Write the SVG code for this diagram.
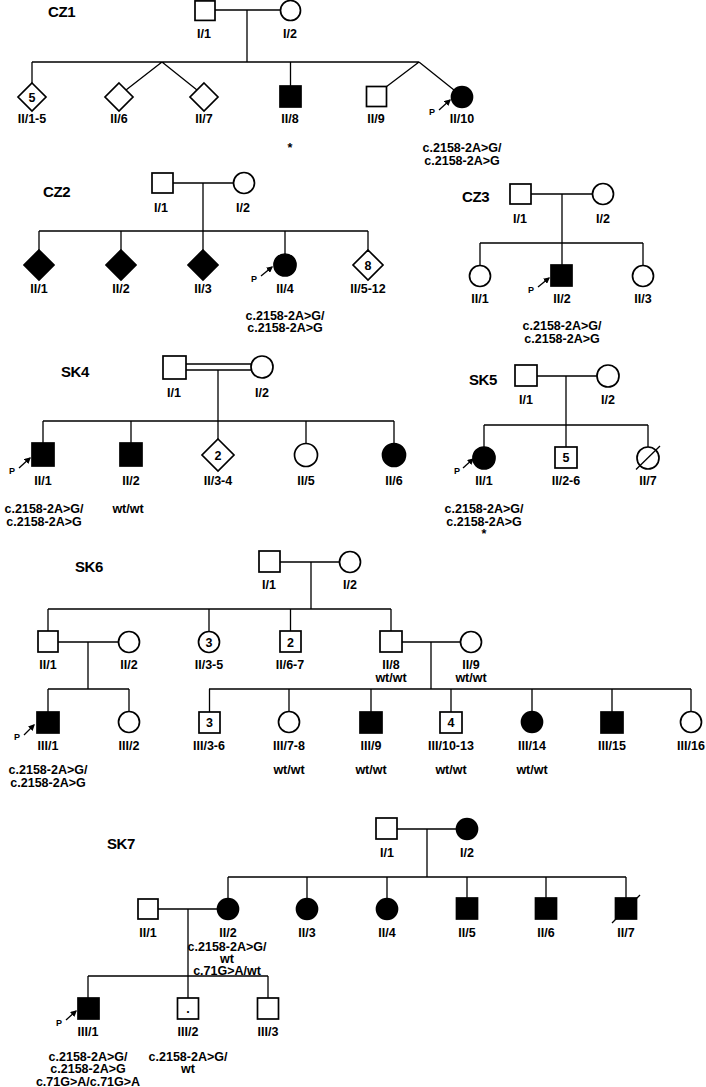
<svg xmlns="http://www.w3.org/2000/svg" width="706" height="1087" viewBox="0 0 706 1087">
<style>
.n{fill:#fff;stroke:#000;stroke-width:1.7}
.f{fill:#000;stroke:#000;stroke-width:1.7}
.c{fill:none;stroke:#000;stroke-width:1.3}
.pa{fill:none;stroke:#000;stroke-width:1.3;marker-end:url(#ah)}
text{font-family:"Liberation Sans",Arial,sans-serif;font-weight:bold;fill:#000}
.t{font-size:12.5px;text-anchor:middle}
.h{font-size:15px;letter-spacing:-0.4px}
.p{font-size:9px;text-anchor:middle}
</style>
<defs>
<marker id="ah" viewBox="0 0 10 10" refX="8" refY="5" markerWidth="5" markerHeight="5" orient="auto"><path d="M0,0 L10,5 L0,10 z" fill="#000"/></marker>
</defs>
<rect width="706" height="1087" fill="#fff"/>

<!-- ================= connectors ================= -->
<g id="connectors">
<!-- CZ1 -->
<path class="c" d="M215,10H280M247,10V62M32,62H419M32,62V83M162,62L126,90M162,62L197,90M290.5,62V86M419,62L386,87M419,62L454,90"/>
<!-- CZ2 -->
<path class="c" d="M173,183H233M203,183V231M39,231H368M39,231V250M121,231V250M203,231V250M285,231V254M368,231V250"/>
<!-- CZ3 -->
<path class="c" d="M531,194H592M562,194V243M480,243H643M480,243V265.5M562,243V265M643,243V265.5"/>
<!-- SK4 -->
<path class="c" d="M186,364H251M186,370H251M218,370V421M43,421H394M43,421V443M131,421V443M218,421V439M306,421V443.5M394,421V443.5"/>
<!-- SK5 -->
<path class="c" d="M537,376H597M566,376V425M484,425H648M484,425V447M566,425V447M648,425V447"/>
<!-- SK6 -->
<path class="c" d="M280,562H340M311,562V609M48,609H391M48,609V631M209,609V631.5M290.5,609V631M391,609V631M58,642H118.5M88,642V689M48,689H129M48,689V712M129,689V711.5M402,642H460.5M431,642V689M209,689H691M209.5,689V712M289,689V711.5M371,689V712M451,689V712M532,689V711.5M612,689V712M691,689V711.5"/>
<!-- SK7 -->
<path class="c" d="M397,829H456.5M427,829V877M228,877H626M228,877V898.5M307,877V898.5M387,877V898.5M467,877V898M546,877V898M626,877V898M158,909H217.5M188,909V998M88,976H268M88,976V998M268,976V998"/>
<!-- proband arrows -->
<path class="pa" d="M439,110L450,100"/>
<path class="pa" d="M261,276L272,267"/>
<path class="pa" d="M538,287L549,278"/>
<path class="pa" d="M19,468L30,458"/>
<path class="pa" d="M463,468L473,459"/>
<path class="pa" d="M24,735L34,725"/>
<path class="pa" d="M66,1020L76,1011"/>
</g>

<!-- ================= CZ1 ================= -->
<g id="CZ1">
<text class="h" x="48" y="16.5">CZ1</text>
<g id="CZ1-I1"><rect class="n" x="195" y="0.9" width="20" height="19.5"/><text class="t" x="204" y="37.5">I/1</text></g>
<g id="CZ1-I2"><circle class="n" cx="290.5" cy="10.5" r="10"/><text class="t" x="290" y="37.5">I/2</text></g>
<g id="CZ1-II1-5"><polygon class="n" points="32,83 46,97 32,111 18,97"/><text class="t" x="32" y="101.5">5</text><text class="t" x="32" y="122.5">II/1-5</text></g>
<g id="CZ1-II6"><polygon class="n" points="119,83 133,97 119,111 105,97"/><text class="t" x="119" y="122.5">II/6</text></g>
<g id="CZ1-II7"><polygon class="n" points="204,83 218,97 204,111 190,97"/><text class="t" x="204" y="122.5">II/7</text></g>
<g id="CZ1-II8"><rect class="f" x="280" y="86" width="21" height="21"/><text class="t" x="290" y="122.5">II/8</text><text class="t" x="290" y="152">*</text></g>
<g id="CZ1-II9"><rect class="n" x="366.5" y="86.5" width="20" height="20"/><text class="t" x="376" y="122.5">II/9</text></g>
<g id="CZ1-II10"><circle class="f" cx="462" cy="97" r="10.5"/><text class="p" x="432" y="115">P</text><text class="t" x="462" y="122.5">II/10</text><text class="t" x="462" y="151.5">c.2158-2A&gt;G/</text><text class="t" x="462" y="164.5">c.2158-2A&gt;G</text></g>
</g>

<!-- ================= CZ2 ================= -->
<g id="CZ2">
<text class="h" x="43" y="196.5">CZ2</text>
<g id="CZ2-I1"><rect class="n" x="152" y="173" width="21" height="20"/><text class="t" x="161" y="211.5">I/1</text></g>
<g id="CZ2-I2"><circle class="n" cx="244" cy="183" r="10.5"/><text class="t" x="243" y="211.5">I/2</text></g>
<g id="CZ2-II1"><polygon class="f" points="39,250 54,265 39,280 24,265"/><text class="t" x="39" y="292.5">II/1</text></g>
<g id="CZ2-II2"><polygon class="f" points="121,250 136,265 121,280 106,265"/><text class="t" x="121" y="292.5">II/2</text></g>
<g id="CZ2-II3"><polygon class="f" points="203,250 218,265 203,280 188,265"/><text class="t" x="203" y="292.5">II/3</text></g>
<g id="CZ2-II4"><circle class="f" cx="285" cy="265" r="11"/><text class="p" x="254" y="282">P</text><text class="t" x="285" y="292.5">II/4</text><text class="t" x="285" y="319.5">c.2158-2A&gt;G/</text><text class="t" x="285" y="331.5">c.2158-2A&gt;G</text></g>
<g id="CZ2-II5-12"><polygon class="n" points="368,250 383,265 368,280 353,265"/><text class="t" x="368" y="269.5">8</text><text class="t" x="368" y="292.5">II/5-12</text></g>
</g>

<!-- ================= CZ3 ================= -->
<g id="CZ3">
<text class="h" x="462" y="201.5">CZ3</text>
<g id="CZ3-I1"><rect class="n" x="510" y="184" width="21" height="20"/><text class="t" x="520" y="222.5">I/1</text></g>
<g id="CZ3-I2"><circle class="n" cx="603" cy="194" r="10.5"/><text class="t" x="603" y="222.5">I/2</text></g>
<g id="CZ3-II1"><circle class="n" cx="480" cy="276" r="10.5"/><text class="t" x="480" y="302.5">II/1</text></g>
<g id="CZ3-II2"><rect class="f" x="551" y="265" width="21" height="21"/><text class="p" x="531" y="293">P</text><text class="t" x="562" y="302.5">II/2</text><text class="t" x="562" y="329.5">c.2158-2A&gt;G/</text><text class="t" x="562" y="342.5">c.2158-2A&gt;G</text></g>
<g id="CZ3-II3"><circle class="n" cx="643" cy="276" r="10.5"/><text class="t" x="643" y="302.5">II/3</text></g>
</g>

<!-- ================= SK4 ================= -->
<g id="SK4">
<text class="h" x="61" y="376.5">SK4</text>
<g id="SK4-I1"><rect class="n" x="163" y="356" width="23" height="23"/><text class="t" x="174" y="396.5">I/1</text></g>
<g id="SK4-I2"><circle class="n" cx="262" cy="367" r="11"/><text class="t" x="262" y="396.5">I/2</text></g>
<g id="SK4-II1"><rect class="f" x="32" y="443" width="22" height="23"/><text class="p" x="12" y="474">P</text><text class="t" x="43" y="484.5">II/1</text><text class="t" x="44" y="512.5">c.2158-2A&gt;G/</text><text class="t" x="44" y="525.5">c.2158-2A&gt;G</text></g>
<g id="SK4-II2"><rect class="f" x="120" y="443" width="22" height="23"/><text class="t" x="131" y="484.5">II/2</text><text class="t" x="128" y="512.5">wt/wt</text></g>
<g id="SK4-II3-4"><polygon class="n" points="218,439 234,455 218,471 202,455"/><text class="t" x="218" y="459.5">2</text><text class="t" x="218" y="484.5">II/3-4</text></g>
<g id="SK4-II5"><circle class="n" cx="306" cy="455" r="11.5"/><text class="t" x="306" y="484.5">II/5</text></g>
<g id="SK4-II6"><circle class="f" cx="394" cy="455" r="11.5"/><text class="t" x="394" y="484.5">II/6</text></g>
</g>

<!-- ================= SK5 ================= -->
<g id="SK5">
<text class="h" x="469" y="384.5">SK5</text>
<g id="SK5-I1"><rect class="n" x="515" y="365" width="22" height="21"/><text class="t" x="526" y="403.5">I/1</text></g>
<g id="SK5-I2"><circle class="n" cx="608" cy="376" r="11"/><text class="t" x="608" y="403.5">I/2</text></g>
<g id="SK5-II1"><circle class="f" cx="484" cy="458" r="11"/><text class="p" x="457" y="474">P</text><text class="t" x="484" y="484.5">II/1</text><text class="t" x="484" y="512.5">c.2158-2A&gt;G/</text><text class="t" x="484" y="525.5">c.2158-2A&gt;G</text><text class="t" x="484" y="538">*</text></g>
<g id="SK5-II2-6"><rect class="n" x="555" y="447" width="22" height="21"/><text class="t" x="566" y="462">5</text><text class="t" x="566" y="484.5">II/2-6</text></g>
<g id="SK5-II7"><circle class="n" cx="648" cy="458" r="11"/><line class="c" x1="636" y1="469.5" x2="660" y2="446"/><text class="t" x="648" y="484.5">II/7</text></g>
</g>

<!-- ================= SK6 ================= -->
<g id="SK6">
<text class="h" x="75" y="571.5">SK6</text>
<g id="SK6-I1"><rect class="n" x="259" y="551" width="21" height="21"/><text class="t" x="269" y="588.5">I/1</text></g>
<g id="SK6-I2"><circle class="n" cx="350" cy="562" r="10.5"/><text class="t" x="350" y="588.5">I/2</text></g>
<g id="SK6-II1"><rect class="n" x="38" y="631" width="20" height="21"/><text class="t" x="48" y="668.5">II/1</text></g>
<g id="SK6-II2"><circle class="n" cx="129" cy="642" r="10.5"/><text class="t" x="129" y="668.5">II/2</text></g>
<g id="SK6-II3-5"><circle class="n" cx="209" cy="642" r="10.5"/><text class="t" x="209" y="646.5">3</text><text class="t" x="209" y="668.5">II/3-5</text></g>
<g id="SK6-II6-7"><rect class="n" x="280" y="631" width="21" height="21"/><text class="t" x="290.5" y="646.5">2</text><text class="t" x="290" y="668.5">II/6-7</text></g>
<g id="SK6-II8"><rect class="n" x="380" y="631" width="22" height="21"/><text class="t" x="391" y="668.5">II/8</text><text class="t" x="391" y="681.5">wt/wt</text></g>
<g id="SK6-II9"><circle class="n" cx="471" cy="642" r="10.5"/><text class="t" x="471" y="668.5">II/9</text><text class="t" x="471" y="681.5">wt/wt</text></g>
<g id="SK6-III1"><rect class="f" x="37" y="712" width="22" height="21"/><text class="p" x="17" y="740">P</text><text class="t" x="48" y="749.5">III/1</text><text class="t" x="48" y="773.5">c.2158-2A&gt;G/</text><text class="t" x="48" y="786.5">c.2158-2A&gt;G</text></g>
<g id="SK6-III2"><circle class="n" cx="129" cy="722" r="10.5"/><text class="t" x="129" y="749.5">III/2</text></g>
<g id="SK6-III3-6"><rect class="n" x="199" y="712" width="21" height="21"/><text class="t" x="209.5" y="727">3</text><text class="t" x="209" y="749.5">III/3-6</text></g>
<g id="SK6-III7-8"><circle class="n" cx="289" cy="722" r="10.5"/><text class="t" x="289" y="749.5">III/7-8</text><text class="t" x="289" y="774">wt/wt</text></g>
<g id="SK6-III9"><rect class="f" x="360" y="712" width="22" height="21"/><text class="t" x="371" y="749.5">III/9</text><text class="t" x="371" y="774">wt/wt</text></g>
<g id="SK6-III10-13"><rect class="n" x="440" y="712" width="22" height="21"/><text class="t" x="451" y="727">4</text><text class="t" x="451" y="749.5">III/10-13</text><text class="t" x="451" y="774">wt/wt</text></g>
<g id="SK6-III14"><circle class="f" cx="532" cy="722" r="10.5"/><text class="t" x="532" y="749.5">III/14</text><text class="t" x="532" y="774">wt/wt</text></g>
<g id="SK6-III15"><rect class="f" x="601" y="712" width="22" height="21"/><text class="t" x="612" y="749.5">III/15</text></g>
<g id="SK6-III16"><circle class="n" cx="691" cy="722" r="10.5"/><text class="t" x="691" y="749.5">III/16</text></g>
</g>

<!-- ================= SK7 ================= -->
<g id="SK7">
<text class="h" x="107" y="848.5">SK7</text>
<g id="SK7-I1"><rect class="n" x="376" y="818" width="21" height="21"/><text class="t" x="387" y="856.5">I/1</text></g>
<g id="SK7-I2"><circle class="f" cx="467" cy="829" r="10.5"/><text class="t" x="467" y="856.5">I/2</text></g>
<g id="SK7-II1"><rect class="n" x="138" y="899" width="20" height="20"/><text class="t" x="148" y="936.5">II/1</text></g>
<g id="SK7-II2"><circle class="f" cx="228" cy="909" r="10.5"/><text class="t" x="228" y="936.5">II/2</text><text class="t" x="227" y="950.5">c.2158-2A&gt;G/</text><text class="t" x="227" y="962.5">wt</text><text class="t" x="227" y="974.5">c.71G&gt;A/wt</text></g>
<g id="SK7-II3"><circle class="f" cx="307" cy="909" r="10.5"/><text class="t" x="307" y="936.5">II/3</text></g>
<g id="SK7-II4"><circle class="f" cx="387" cy="909" r="10.5"/><text class="t" x="387" y="936.5">II/4</text></g>
<g id="SK7-II5"><rect class="f" x="456.5" y="898" width="21" height="21"/><text class="t" x="467" y="936.5">II/5</text></g>
<g id="SK7-II6"><rect class="f" x="535.5" y="898" width="21" height="21"/><text class="t" x="546" y="936.5">II/6</text></g>
<g id="SK7-II7"><rect class="f" x="615.5" y="898" width="21" height="21"/><line class="c" x1="612" y1="923" x2="640" y2="895"/><text class="t" x="626" y="936.5">II/7</text></g>
<g id="SK7-III1"><rect class="f" x="78" y="998" width="21" height="21"/><text class="p" x="59" y="1026">P</text><text class="t" x="88" y="1035.5">III/1</text><text class="t" x="88" y="1061">c.2158-2A&gt;G/</text><text class="t" x="88" y="1073">c.2158-2A&gt;G</text><text class="t" x="88" y="1086">c.71G&gt;A/c.71G&gt;A</text></g>
<g id="SK7-III2"><rect class="n" x="177.5" y="998" width="21" height="21"/><text class="t" x="188" y="1013">.</text><text class="t" x="188" y="1035.5">III/2</text><text class="t" x="188" y="1061">c.2158-2A&gt;G/</text><text class="t" x="188" y="1073">wt</text></g>
<g id="SK7-III3"><rect class="n" x="257.5" y="998" width="21" height="21"/><text class="t" x="268" y="1035.5">III/3</text></g>
</g>
</svg>
